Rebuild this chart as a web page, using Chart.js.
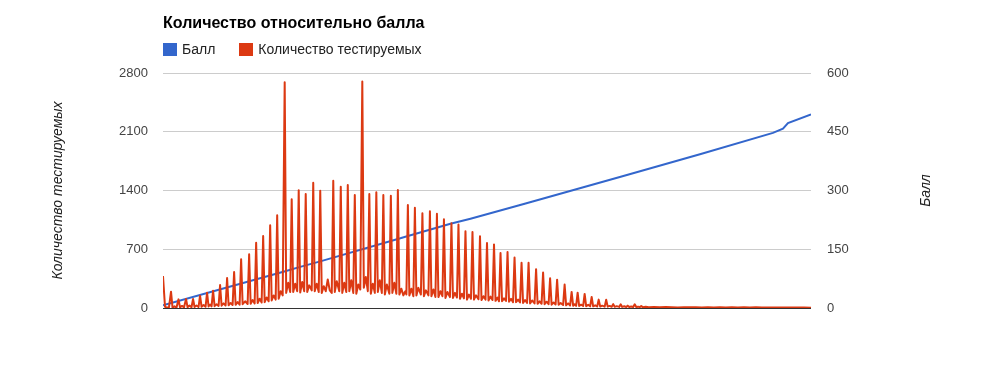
<!DOCTYPE html>
<html lang="ru">
<head>
<meta charset="utf-8">
<title>Количество относительно балла</title>
<script src="https://cdn.jsdelivr.net/npm/chart.js@4.4.1/dist/chart.umd.min.js"></script>
<style>
  html, body { margin: 0; padding: 0; background: #fff; }
  #wrap { position: relative; width: 1000px; height: 382px; font-family: 'Liberation Sans', Arial, sans-serif; }
  #title { position: absolute; left: 163px; top: 15px; font-size: 16px; line-height: 16px; font-weight: bold; color: #000; white-space: nowrap; }
  #legend { position: absolute; left: 163px; top: 41.7px; display: flex; gap: 24px; font-size: 14px; line-height: 14px; color: #222; white-space: nowrap; }
  #legend .item { display: flex; align-items: flex-start; }
  #legend .box { width: 14px; height: 13px; margin-top: 1px; margin-right: 5px; }
</style>
</head>
<body>
<div id="wrap">
  <canvas id="chart" width="1000" height="382"></canvas>
  <div id="title"></div>
  <div id="legend"></div>
</div>
<script>
const chartTitle = 'Количество относительно балла';
const seriesNames = ['Балл', 'Количество тестируемых'];
const seriesColors = ['#3366cc', '#dc3912'];
const axisTitles = ['Количество тестируемых', 'Балл'];

// порядковый номер строки (ось X без подписей)
const rowCount = 647;

const countTicks = [0, 700, 1400, 2100, 2800];
const scoreTicks = [0, 150, 300, 450, 600];

// [номер, балл]
const scorePoints = [
  [0, 7], [122, 94], [137, 105], [157, 119], [237, 178], [242, 182], [287, 215],
  [307, 228], [362, 267], [457, 335], [537, 393], [609, 447], [619, 458], [624, 472], [647, 494]
];

// [номер, количество тестируемых]
const countPoints = [
  [0,380],[2,15],[4,5],[6,10],
  [8,194],[9.5,5],[11.5,20],[13.5,5],
  [15.5,103],[17,8],[19,25],[21,8],
  [23,107],[24.5,10],[26.5,28],[28.5,10],
  [30,107],[31.5,12],[33.5,30],[35.5,12],
  [37,147],[38.5,15],[40.5,35],[42.5,15],
  [44,183],[45.5,18],[47,40],[48.5,20],
  [50,206],[51.5,22],[53.5,45],[55.5,25],
  [57,274],[58.5,28],[60.5,55],[62.5,30],
  [64,357],[65.5,32],[67.5,60],[69.5,35],
  [71,429],[72.5,38],[74.5,70],[76.5,40],
  [78,580],[79.5,45],[82,80],[84.5,48],
  [86,640],[87.5,50],[89.5,95],[91.5,55],
  [93,778],[94.5,60],[96.5,110],[98.5,65],
  [100,858],[101.5,70],[103.5,125],[105.5,80],
  [107,985],[108.5,90],[110.5,150],[112.5,100],
  [114,1106],[115.5,110],[117.5,200],[119.5,150],
  [121.5,2690],[123,180],[125,300],[127,190],
  [128.5,1295],[130,190],[132,290],[134,200],
  [135.5,1402],[137,185],[139,310],[141,200],
  [142.5,1358],[144,190],[146,270],[148.5,210],
  [150,1493],[151.5,200],[153.5,290],[155.5,190],
  [157,1398],[158.5,180],[160.5,260],[162.5,200],[164.5,340],[166.5,210],[168.5,180],
  [170,1517],[171.5,190],[173.5,320],[176,200],
  [177.5,1446],[179,180],[181,300],[183,190],
  [184.5,1466],[186,200],[188,330],[190,180],
  [191.5,1346],[193,170],[195,280],[197,220],
  [199,2700],[200.5,240],[202.5,370],[204.5,200],
  [206,1358],[207.5,170],[209.5,290],[211.5,180],
  [213,1380],[214.5,190],[216.5,330],[218.5,180],
  [220,1346],[221.5,160],[223.5,280],[226,170],
  [227.5,1336],[229,180],[231,300],[233,170],
  [234.5,1406],[236,160],[238,230],[240,150],[242,200],[243,160],
  [244.5,1227],[246,150],[248,230],[250,140],
  [251.5,1193],[253,150],[255,240],[257.5,160],
  [259,1128],[260.5,140],[262.5,210],[265,150],
  [266.5,1154],[268,140],[270,220],[272,130],
  [273.5,1122],[275,130],[277,200],[279,140],
  [280.5,1058],[282,120],[284,190],[286.5,130],
  [288,1009],[289.5,120],[291.5,180],[293.5,125],
  [295,995],[296.5,110],[298.5,170],[300.5,115],
  [302,915],[303.5,100],[305.5,160],[307.5,110],
  [309,905],[310.5,100],[312.5,150],[315,105],
  [316.5,854],[318,95],[320,140],[322,100],
  [323.5,775],[325,90],[327,135],[329,95],
  [330.5,757],[332,85],[334,125],[335.5,80],
  [337,655],[338.5,80],[340.5,115],[342.5,85],
  [344,667],[345.5,75],[347.5,110],[349.5,70],
  [351,602],[352.5,70],[354.5,100],[356.5,65],
  [358,540],[359.5,60],[361.5,95],[363.5,60],
  [365,540],[366.5,55],[368.5,90],[371,55],
  [372.5,463],[374,50],[376,80],[378,50],
  [379.5,423],[381,45],[383,75],[385,45],
  [386.5,354],[388,40],[390,65],[392,42],
  [393.5,338],[395,38],[397,60],[399.5,35],
  [401,280],[402.5,32],[404.5,55],[406.5,30],
  [408,191],[409.5,28],[411,45],[412.5,26],
  [414,183],[415.5,25],[417.5,40],[419.5,24],
  [421,167],[422.5,22],[424.5,38],[426.5,20],
  [428,131],[429.5,20],[431.5,32],[433.5,18],
  [435,100],[436.5,18],[438.5,28],[441,16],
  [442.5,98],[444,16],[446,25],[448,15],
  [449.5,46],[451,14],[453,22],[455.5,13],
  [457,44],[458.5,13],[460.5,20],[462.5,12],
  [464,28],[465.5,12],[467.5,18],[469.5,11],
  [471,44],[472.5,11],[474.5,16],[476,10],
  [477.5,24],[479,10],[482,14],[485,9],
  [490,12],[496,8],[502,11],[508,9],[514,7],[520,10],[526,8],[532,9],[538,6],[544,10],
  [550,7],[556,8],[562,6],[568,9],[574,7],[580,8],[586,6],[592,8],[598,5],[604,7],
  [610,6],[616,7],[622,5],[628,6],[634,5],[640,6],[647,4]
];

const font = "'Liberation Sans', Arial, sans-serif";

// подпись правой оси, повернутая как у левой
const rightTitle = {
  id: 'rightTitle',
  afterDraw(chart) {
    const s = chart.scales.yScore;
    const ctx = chart.ctx;
    ctx.save();
    ctx.translate(s.left + 115, (s.top + s.bottom) / 2);
    ctx.rotate(-Math.PI / 2);
    ctx.font = 'italic 14px ' + font;
    ctx.fillStyle = '#222';
    ctx.textAlign = 'center';
    ctx.textBaseline = 'middle';
    ctx.fillText(axisTitles[1], 0, 0);
    ctx.restore();
  }
};

const ctx = document.getElementById('chart').getContext('2d');
const chart = new Chart(ctx, {
  type: 'line',
  data: {
    datasets: [{
      label: seriesNames[0],
      data: scorePoints.map(p => ({x: p[0], y: p[1]})),
      yAxisID: 'yScore',
      borderColor: seriesColors[0],
      backgroundColor: seriesColors[0],
      borderWidth: 2,
      pointRadius: 0,
      order: 1
    }, {
      label: seriesNames[1],
      data: countPoints.map(p => ({x: p[0], y: p[1]})),
      yAxisID: 'yCount',
      borderColor: seriesColors[1],
      backgroundColor: seriesColors[1],
      borderWidth: 2,
      borderJoinStyle: 'round',
      pointRadius: 0,
      order: 0
    }]
  },
  options: {
    responsive: false,
    animation: false,
    events: [],
    layout: { padding: { top: 73, bottom: 74 } },
    plugins: {
      legend: { display: false },
      title: { display: false },
      tooltip: { enabled: false }
    },
    scales: {
      x: { type: 'linear', min: 0, max: rowCount, display: false },
      yCount: {
        position: 'left',
        min: countTicks[0],
        max: countTicks[countTicks.length - 1],
        afterBuildTicks: s => { s.ticks = countTicks.map(v => ({value: v})); },
        afterFit: s => { s.width = 163; },
        ticks: { padding: 15, color: '#444', font: { family: font, size: 13 }, callback: v => String(v) },
        grid: {
          drawTicks: false,
          color: c => c.tick && c.tick.value === 0 ? '#333' : '#ccc'
        },
        border: { display: false },
        title: {
          display: true,
          text: axisTitles[0],
          color: '#222',
          font: { family: font, size: 14, style: 'italic' },
          padding: { top: 50, bottom: 0 }
        }
      },
      yScore: {
        position: 'right',
        min: scoreTicks[0],
        max: scoreTicks[scoreTicks.length - 1],
        afterBuildTicks: s => { s.ticks = scoreTicks.map(v => ({value: v})); },
        afterFit: s => { s.width = 189; },
        ticks: { padding: 16, color: '#444', font: { family: font, size: 13 }, callback: v => String(v) },
        grid: { display: false, drawTicks: false },
        border: { display: false }
      }
    }
  },
  plugins: [rightTitle]
});

document.getElementById('title').textContent = chartTitle;
const legend = document.getElementById('legend');
chart.data.datasets.forEach(ds => {
  const item = document.createElement('div');
  item.className = 'item';
  const box = document.createElement('span');
  box.className = 'box';
  box.style.background = ds.borderColor;
  const text = document.createElement('span');
  text.textContent = ds.label;
  item.appendChild(box);
  item.appendChild(text);
  legend.appendChild(item);
});
</script>
</body>
</html>
